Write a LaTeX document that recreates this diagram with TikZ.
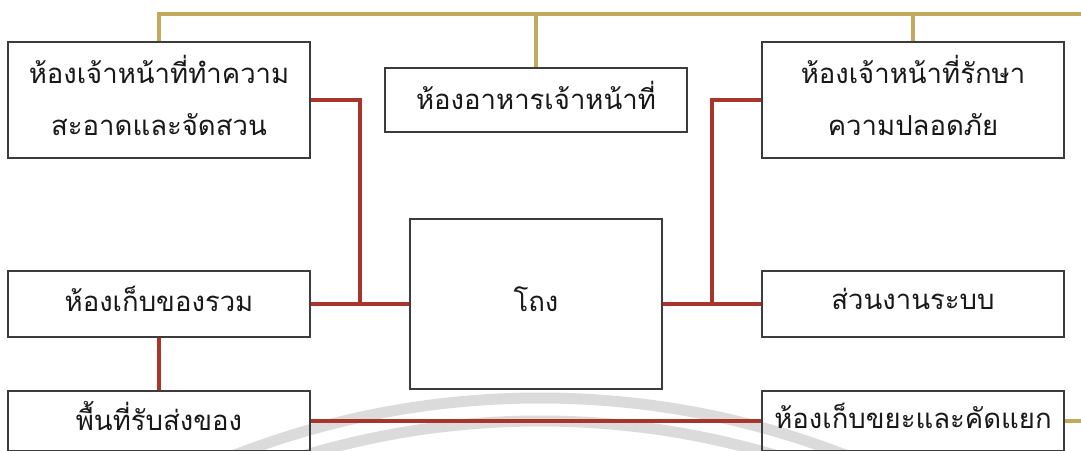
\documentclass[tikz,border=0pt]{standalone}
\usepackage{fontspec}
\newfontfamily\thaifont[Script=Thai]{Loma}
\definecolor{redc}{RGB}{168,52,42}
\definecolor{goldc}{RGB}{194,170,92}
\definecolor{boxc}{RGB}{60,60,60}
\definecolor{wmc}{RGB}{205,205,205}
\definecolor{txtc}{RGB}{25,25,25}
\begin{document}
\begin{tikzpicture}[x=1pt,y=-1pt,
  box/.style={draw=boxc, line width=1.3pt, rectangle, inner sep=0pt},
  lbl/.style={inner sep=0pt, align=center, yshift=5pt, text=txtc,
    font=\thaifont\fontsize{27.5}{52}\selectfont},
  redln/.style={draw=redc, line width=3.6pt},
  goldln/.style={draw=goldc, line width=3.6pt},
  wm/.style={draw=wmc, line width=11pt, opacity=0.7}]
\useasboundingbox[fill=white] (0,0) rectangle (1081,450);
% watermark arcs
\begin{scope}
\clip (0,0) rectangle (1081,450);
\draw[wm] (540,1240) circle[radius=842];
\draw[wm] (540,1240) circle[radius=819];
\end{scope}
% nodes
\node[box, minimum width=302, minimum height=116,
  label={[lbl]center:{ห้องเจ้าหน้าที่ทำความ\\สะอาดและจัดสวน}}] (A) at (159,100) {};
\node[box, minimum width=302, minimum height=64,
  label={[lbl]center:{ห้องอาหารเจ้าหน้าที่}}] (B) at (536,100) {};
\node[box, minimum width=302, minimum height=116,
  label={[lbl]center:{ห้องเจ้าหน้าที่รักษา\\ความปลอดภัย}}] (C) at (913,100) {};
\node[box, minimum width=302, minimum height=66,
  label={[lbl]center:{ห้องเก็บของรวม}}] (D) at (159,304) {};
\node[box, minimum width=252, minimum height=170,
  label={[lbl]center:{โถง}}] (E) at (536,304) {};
\node[box, minimum width=302, minimum height=66,
  label={[lbl]center:{ส่วนงานระบบ}}] (F) at (913,304) {};
\node[box, minimum width=302, minimum height=60,
  label={[lbl]center:{พื้นที่รับส่งของ}}] (G) at (159,421) {};
\node[box, minimum width=302, minimum height=60,
  label={[lbl]center:{ห้องเก็บขยะและคัดแยก}}] (H) at (913,421) {};
% junctions
\coordinate (jL) at (360,304);
\coordinate (jR) at (712,304);
\coordinate (gT) at (1081,14);
\coordinate (gH) at (1081,421);
% red connectors
\draw[redln] (A.east) -| (jL);
\draw[redln] (D.east) -- (E.west);
\draw[redln] (C.west) -| (jR);
\draw[redln] (E.east) -- (F.west);
\draw[redln] (D.south) -- (G.north);
\draw[redln] (G.east) -- (H.west);
% gold connectors
\draw[goldln] (A.north) |- (gT);
\draw[goldln] (B.north) -- (B.north |- gT);
\draw[goldln] (C.north) -- (C.north |- gT);
\draw[goldln] (H.east) -- (gH);
\end{tikzpicture}
\end{document}
